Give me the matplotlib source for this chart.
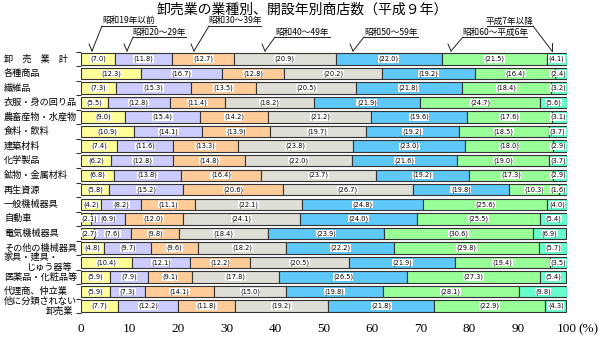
import matplotlib
matplotlib.use("Agg")
import matplotlib.pyplot as plt
from matplotlib.lines import Line2D
import numpy as np

plt.rcParams["font.family"] = ["Noto Sans CJK JP", "DejaVu Sans"]

# 業種（上から順）
categories = [
    "卸　売　業　計", "各種商品", "繊維品", "衣服・身の回り品", "農畜産物・水産物",
    "食料・飲料", "建築材料", "化学製品", "鉱物・金属材料", "再生資源",
    "一般機械器具", "自動車", "電気機械器具", "その他の機械器具",
    "家具・建具・\nじゅう器等", "医薬品・化粧品等", "代理商、仲立業", "他に分類されない\n卸売業",
]
periods = ["昭和19年以前", "昭和20～29年", "昭和30～39年", "昭和40～49年",
           "昭和50～59年", "昭和60～平成6年", "平成7年以降"]

# 開設年別構成比 (%)
s_before19 = [7.0, 12.3, 7.3, 5.5, 9.0, 10.9, 7.4, 6.2, 6.8, 5.8, 4.2, 2.1, 2.7, 4.8, 10.4, 5.9, 5.9, 7.7]
s_20_29    = [11.8, 16.7, 15.3, 12.8, 15.4, 14.1, 11.6, 12.8, 13.8, 15.2, 8.2, 6.9, 7.6, 9.7, 12.1, 7.9, 7.3, 12.2]
s_30_39    = [12.7, 12.8, 13.5, 11.4, 14.2, 13.9, 13.3, 14.8, 16.4, 20.6, 11.1, 12.0, 9.8, 9.6, 12.2, 9.1, 14.1, 11.8]
s_40_49    = [20.9, 20.2, 20.5, 18.2, 21.2, 19.7, 23.8, 22.0, 23.7, 26.7, 22.1, 24.1, 18.4, 18.2, 20.5, 17.8, 15.0, 19.2]
s_50_59    = [22.0, 19.2, 21.8, 21.9, 19.6, 19.2, 23.0, 21.6, 19.2, 19.8, 24.8, 24.0, 23.9, 22.2, 21.9, 26.5, 19.8, 21.8]
s_60_h6    = [21.5, 16.4, 18.4, 24.7, 17.6, 18.5, 18.0, 19.0, 17.3, 10.3, 25.6, 25.5, 30.6, 29.8, 19.4, 27.3, 28.1, 22.9]
s_after7   = [4.1, 2.4, 3.2, 5.6, 3.1, 3.7, 2.9, 3.7, 2.9, 1.6, 4.0, 5.4, 6.9, 5.7, 3.5, 5.4, 9.8, 4.3]

series = [s_before19, s_20_29, s_30_39, s_40_49, s_50_59, s_60_h6, s_after7]
colors = ["#ffff99", "#ccccff", "#ffcc99", "#deded6", "#5ec8f8", "#99ff99", "#66ffcc"]

W, H = 600, 360
fig = plt.figure(figsize=(6, 3.6), dpi=100)
ax = fig.add_axes([81 / W, 1 - 313.3 / H, (566.7 - 81) / W, (313.3 - 51.7) / H])

def fx(px):
    return px / W

def fy(py):
    return 1 - py / H

y = np.arange(len(categories))
left = np.zeros(len(categories))
for vals, c in zip(series, colors):
    vals = np.array(vals)
    ax.barh(y, vals, left=left, height=0.78, color=c, edgecolor="#333333", linewidth=0.8)
    for yi, (l, v) in enumerate(zip(left, vals)):
        cx = min(max(l + v / 2, 1.8), 98.2)
        ax.text(cx, yi, f"({v:.1f})", ha="center", va="center", fontsize=4.8,
                family="DejaVu Sans",
                bbox=dict(facecolor="white", edgecolor="none", pad=0.3))
    left += vals

ax.set_xlim(0, 100)
ax.set_ylim(len(categories) - 0.5, -0.5)
for sp in ax.spines.values():
    sp.set_visible(False)

ax.set_yticks(np.arange(-0.5, len(categories), 1))
ax.set_yticklabels([])
ax.tick_params(axis="y", length=3.5, width=0.8, color="#333333")

xt = np.arange(0, 101, 10)
ax.set_xticks(xt)
ax.set_xticklabels([str(v) for v in xt], fontsize=9.5, family="Liberation Serif")
ax.tick_params(axis="x", length=0, pad=7)
fig.text(fx(578), fy(329), "(%)", fontsize=9.5, family="Liberation Serif", ha="left", va="center")

# 行ラベル
for yi, name in enumerate(categories):
    ty = ax.transData.transform((0, yi))[1] / H
    if "\n" in name:
        l1, l2 = name.split("\n")
        fig.text(fx(4), ty + 5 / H, l1, fontsize=6.6, ha="left", va="center")
        fig.text(fx(73), ty - 5 / H, l2, fontsize=6.6, ha="right", va="center")
    else:
        fig.text(fx(4), ty, name, fontsize=6.6, ha="left", va="center")

fig.text(fx(302), fy(10), "卸売業の業種別、開設年別商店数（平成９年）", fontsize=10,
         ha="center", va="center")

# 凡例（引出し線）: (ラベル中心x, ラベルy, 下線左, 下線右, 線の始点x, 終点x)
legend_pos = [
    (129, 21, 102, 156, 102, 92),
    (159, 32, 133, 186, 133, 127),
    (235, 21, 209, 261, 209, 194),
    (302, 32, 275, 330, 275, 265),
    (391, 32, 364, 418, 364, 353),
    (495, 32, 463, 527, 463, 451),
    (510, 21, 487, 533, 533, 552),
]
for name, (cx, cy, u0, u1, sx, ex) in zip(periods, legend_pos):
    fig.text(fx(cx), fy(cy), name, fontsize=6.2, ha="center", va="center")
    uy = cy + 5
    fig.add_artist(Line2D([fx(u0), fx(u1)], [fy(uy), fy(uy)], color="#222222", lw=0.7))
    fig.add_artist(Line2D([fx(sx), fx(ex)], [fy(uy), fy(51)], color="#222222", lw=0.7))
    if ex > sx:
        fig.add_artist(Line2D([fx(ex), fx(ex)], [fy(43), fy(51)], color="#222222", lw=0.7))
    else:
        fig.add_artist(Line2D([fx(ex - 3), fx(ex)], [fy(44), fy(51)], color="#222222", lw=0.7))

fig.savefig("out.png", dpi=100)
